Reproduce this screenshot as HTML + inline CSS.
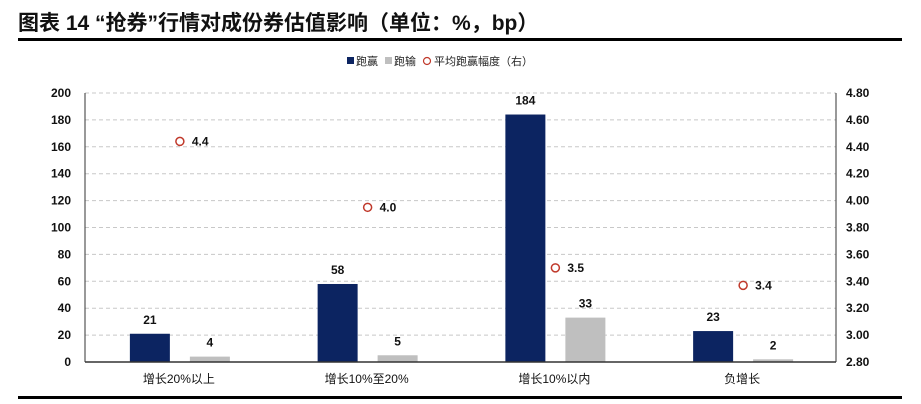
<!DOCTYPE html>
<html><head><meta charset="utf-8"><style>
body{margin:0;background:#fff;font-family:"Liberation Sans","Noto Sans CJK SC",sans-serif}
#wrap{position:relative;width:921px;height:404px;overflow:hidden}
</style></head><body>
<div id="wrap">
<svg id="svg" width="921" height="404" xmlns="http://www.w3.org/2000/svg" font-family="Liberation Sans, Noto Sans CJK SC, sans-serif">
<text x="18" y="30" font-size="21" font-weight="bold" fill="#111">图表 14 “抢券”行情对成份券估值影响（单位：%，bp）</text>
<rect x="18" y="38" width="884" height="3" fill="#000"/>
<rect x="18" y="396" width="884" height="3" fill="#000"/>
<g font-size="11" fill="#222">
<rect x="347" y="57" width="7" height="7" fill="#0c2461"/>
<text x="356" y="65">跑赢</text>
<rect x="385" y="57" width="7" height="7" fill="#bfbfbf"/>
<text x="394" y="65">跑输</text>
<circle cx="427" cy="61" r="3.5" fill="none" stroke="#c0392b" stroke-width="1.2"/>
<text x="434" y="65">平均跑赢幅度（右）</text>
</g>
<g id="plot"></g>
</svg>
</div>
<script>
const categories=["增长20%以上","增长10%至20%","增长10%以内","负增长"];
const winValues=[21,58,184,23];
const loseValues=[4,5,33,2];
const avgValues=[4.44,3.95,3.5,3.37];
const leftTicks=[0,20,40,60,80,100,120,140,160,180,200];
const rightTicks=[2.8,3.0,3.2,3.4,3.6,3.8,4.0,4.2,4.4,4.6,4.8];
const NS="http://www.w3.org/2000/svg";
const X0=85,X1=836,Y0=362,Y1=93;
const yL=v=>Y0-(v-0)/(200-0)*(Y0-Y1);
const yR=v=>Y0-(v-2.8)/(4.8-2.8)*(Y0-Y1);
const bw=(X1-X0)/categories.length;
const xC=i=>X0+bw*(i+0.5);
const g=document.getElementById('plot');
function mk(t,a,txt){const e=document.createElementNS(NS,t);for(const k in a)e.setAttribute(k,a[k]);if(txt!==undefined)e.textContent=txt;g.appendChild(e);return e;}
leftTicks.forEach((t,i)=>{
 if(i>0){const l=mk('line',{x1:X0,x2:X1,y1:yL(t),y2:yL(t),stroke:'#c8c8c8','stroke-dasharray':'4,3'});
 
 }
 const tx=mk('text',{x:X0-14,y:yL(t)+4,'font-size':12,'font-weight':'bold','text-anchor':'end',fill:'#111'},t);
 
 
});
rightTicks.forEach(t=>{
 const tx=mk('text',{x:X1+10,y:yR(t)+4,'font-size':12,'font-weight':'bold',fill:'#111'},t.toFixed(2));
 
 
});
let a=mk('line',{x1:X0,x2:X0,y1:Y1,y2:Y0,stroke:'#333'});


a=mk('line',{x1:X1,x2:X1,y1:Y1,y2:Y0,stroke:'#333'});


categories.forEach((c,i)=>{
 const cx=xC(i);
 let r=mk('rect',{x:cx-49,y:yL(winValues[i]),width:40,height:Y0-yL(winValues[i]),fill:'#0c2461'});
 
 
 let t=mk('text',{x:cx-29,y:yL(winValues[i])-10,'font-size':12,'font-weight':'bold','text-anchor':'middle',fill:'#111'},winValues[i]);
 
 
 r=mk('rect',{x:cx+11,y:yL(loseValues[i]),width:40,height:Y0-yL(loseValues[i]),fill:'#bfbfbf'});
 
 
 t=mk('text',{x:cx+31,y:yL(loseValues[i])-10,'font-size':12,'font-weight':'bold','text-anchor':'middle',fill:'#111'},loseValues[i]);
 
 
 const m=mk('circle',{cx:cx+1,cy:yR(avgValues[i]),r:4,fill:'#fff',stroke:'#c0392b','stroke-width':1.5});
 
 
 t=mk('text',{x:cx+13,y:yR(avgValues[i])+4,'font-size':12,'font-weight':'bold',fill:'#111'},avgValues[i].toFixed(1));
 
 
 t=mk('text',{x:cx,y:Y0+21,'font-size':12,'text-anchor':'middle',fill:'#111'},c);
 
 
});
a=mk('line',{x1:X0,x2:X1,y1:Y0,y2:Y0,stroke:'#333','stroke-width':1.5});


</script>
</body></html>
